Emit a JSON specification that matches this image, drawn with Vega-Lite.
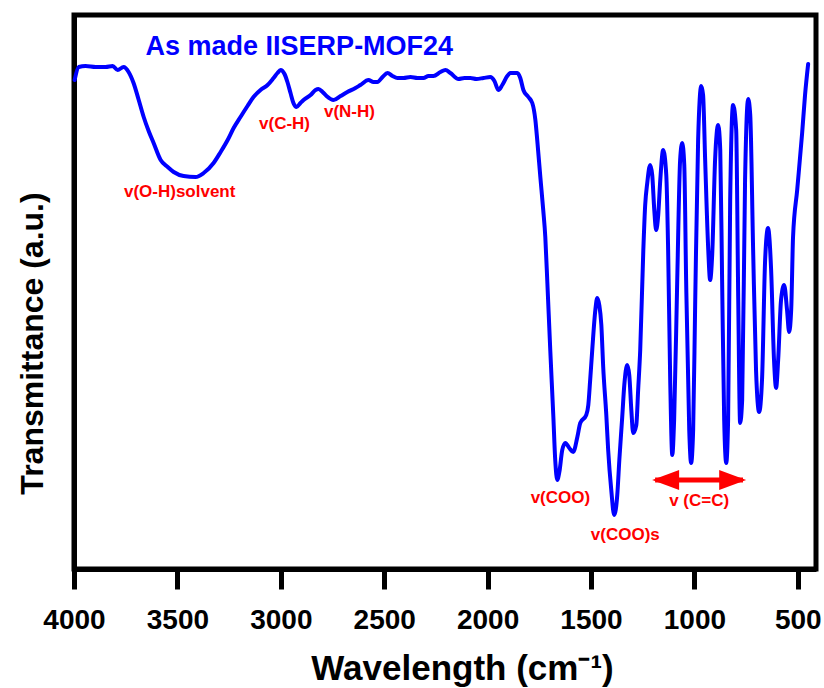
{
  "$schema": "https://vega.github.io/schema/vega-lite/v6.json",
  "width": 742,
  "height": 554,
  "autosize": {"type": "none"},
  "padding": {"left": 74, "top": 15, "right": 8, "bottom": 119},
  "background": "white",
  "config": {
    "view": {"stroke": "black", "strokeWidth": 5},
    "axis": {"grid": false, "domainColor": "black", "domainWidth": 5, "tickColor": "black", "tickWidth": 5,
      "labelFont": "Liberation Sans", "titleFont": "Liberation Sans", "labelColor": "black", "titleColor": "black",
      "labelFontWeight": "bold", "titleFontWeight": "bold"},
    "text": {"font": "Liberation Sans", "fontWeight": "bold"}
  },
  "datasets": {
    "spectrum": [
      {"wn": 3997, "t": 489}, {"wn": 3977, "t": 502}, {"wn": 3944, "t": 503}, {"wn": 3895, "t": 502},
      {"wn": 3847, "t": 502}, {"wn": 3813, "t": 503}, {"wn": 3789, "t": 499}, {"wn": 3760, "t": 502},
      {"wn": 3736, "t": 497}, {"wn": 3712, "t": 486}, {"wn": 3687, "t": 469}, {"wn": 3663, "t": 452},
      {"wn": 3639, "t": 438}, {"wn": 3615, "t": 426}, {"wn": 3581, "t": 409}, {"wn": 3547, "t": 402},
      {"wn": 3518, "t": 397}, {"wn": 3470, "t": 393}, {"wn": 3412, "t": 392}, {"wn": 3373, "t": 396},
      {"wn": 3325, "t": 406}, {"wn": 3291, "t": 417}, {"wn": 3257, "t": 429}, {"wn": 3228, "t": 441},
      {"wn": 3195, "t": 452}, {"wn": 3161, "t": 463}, {"wn": 3132, "t": 472}, {"wn": 3098, "t": 479},
      {"wn": 3064, "t": 484}, {"wn": 3035, "t": 491}, {"wn": 3016, "t": 496}, {"wn": 3001, "t": 499},
      {"wn": 2982, "t": 495}, {"wn": 2968, "t": 487}, {"wn": 2953, "t": 476}, {"wn": 2939, "t": 466},
      {"wn": 2924, "t": 462}, {"wn": 2905, "t": 466}, {"wn": 2890, "t": 469}, {"wn": 2856, "t": 474},
      {"wn": 2832, "t": 479}, {"wn": 2818, "t": 480}, {"wn": 2798, "t": 477}, {"wn": 2779, "t": 473},
      {"wn": 2745, "t": 469}, {"wn": 2711, "t": 473}, {"wn": 2678, "t": 477}, {"wn": 2639, "t": 481},
      {"wn": 2615, "t": 484}, {"wn": 2576, "t": 489}, {"wn": 2552, "t": 487}, {"wn": 2533, "t": 487},
      {"wn": 2508, "t": 492}, {"wn": 2484, "t": 496}, {"wn": 2460, "t": 493}, {"wn": 2436, "t": 491},
      {"wn": 2407, "t": 491}, {"wn": 2373, "t": 492}, {"wn": 2339, "t": 491}, {"wn": 2310, "t": 491},
      {"wn": 2286, "t": 493}, {"wn": 2262, "t": 493}, {"wn": 2228, "t": 497}, {"wn": 2204, "t": 499},
      {"wn": 2180, "t": 496}, {"wn": 2141, "t": 490}, {"wn": 2112, "t": 491}, {"wn": 2083, "t": 491},
      {"wn": 2054, "t": 490}, {"wn": 2020, "t": 491}, {"wn": 1987, "t": 492}, {"wn": 1967, "t": 488},
      {"wn": 1948, "t": 479}, {"wn": 1929, "t": 484}, {"wn": 1905, "t": 493}, {"wn": 1890, "t": 496},
      {"wn": 1856, "t": 496}, {"wn": 1842, "t": 491}, {"wn": 1827, "t": 479}, {"wn": 1803, "t": 472},
      {"wn": 1784, "t": 466}, {"wn": 1769, "t": 449}, {"wn": 1760, "t": 429}, {"wn": 1745, "t": 392},
      {"wn": 1731, "t": 359}, {"wn": 1721, "t": 332}, {"wn": 1711, "t": 286}, {"wn": 1697, "t": 219},
      {"wn": 1682, "t": 152}, {"wn": 1673, "t": 109}, {"wn": 1663, "t": 89}, {"wn": 1653, "t": 97},
      {"wn": 1639, "t": 119}, {"wn": 1624, "t": 126}, {"wn": 1605, "t": 121}, {"wn": 1586, "t": 117},
      {"wn": 1566, "t": 132}, {"wn": 1552, "t": 146}, {"wn": 1523, "t": 154}, {"wn": 1513, "t": 164},
      {"wn": 1504, "t": 189}, {"wn": 1494, "t": 219}, {"wn": 1479, "t": 259}, {"wn": 1470, "t": 271},
      {"wn": 1460, "t": 264}, {"wn": 1450, "t": 244}, {"wn": 1441, "t": 202}, {"wn": 1426, "t": 154},
      {"wn": 1417, "t": 119}, {"wn": 1402, "t": 79}, {"wn": 1388, "t": 54}, {"wn": 1373, "t": 74},
      {"wn": 1363, "t": 109}, {"wn": 1349, "t": 152}, {"wn": 1339, "t": 184}, {"wn": 1325, "t": 204},
      {"wn": 1315, "t": 194}, {"wn": 1305, "t": 159}, {"wn": 1296, "t": 136}, {"wn": 1281, "t": 144},
      {"wn": 1272, "t": 179}, {"wn": 1262, "t": 219}, {"wn": 1247, "t": 319}, {"wn": 1238, "t": 364},
      {"wn": 1228, "t": 386}, {"wn": 1214, "t": 404}, {"wn": 1204, "t": 394}, {"wn": 1194, "t": 359},
      {"wn": 1185, "t": 339}, {"wn": 1175, "t": 354}, {"wn": 1165, "t": 389}, {"wn": 1151, "t": 419},
      {"wn": 1136, "t": 394}, {"wn": 1127, "t": 319}, {"wn": 1117, "t": 189}, {"wn": 1107, "t": 114},
      {"wn": 1098, "t": 149}, {"wn": 1083, "t": 289}, {"wn": 1069, "t": 409}, {"wn": 1059, "t": 426},
      {"wn": 1049, "t": 404}, {"wn": 1040, "t": 289}, {"wn": 1025, "t": 139}, {"wn": 1016, "t": 106},
      {"wn": 1006, "t": 139}, {"wn": 996, "t": 269}, {"wn": 982, "t": 429}, {"wn": 967, "t": 483},
      {"wn": 958, "t": 474}, {"wn": 948, "t": 409}, {"wn": 933, "t": 319}, {"wn": 924, "t": 289},
      {"wn": 914, "t": 314}, {"wn": 900, "t": 409}, {"wn": 885, "t": 444}, {"wn": 875, "t": 419},
      {"wn": 866, "t": 289}, {"wn": 856, "t": 149}, {"wn": 846, "t": 106}, {"wn": 837, "t": 149},
      {"wn": 827, "t": 369}, {"wn": 813, "t": 464}, {"wn": 798, "t": 439}, {"wn": 788, "t": 269},
      {"wn": 779, "t": 146}, {"wn": 769, "t": 169}, {"wn": 755, "t": 389}, {"wn": 740, "t": 470},
      {"wn": 730, "t": 454}, {"wn": 716, "t": 319}, {"wn": 702, "t": 199}, {"wn": 687, "t": 157},
      {"wn": 673, "t": 189}, {"wn": 658, "t": 309}, {"wn": 644, "t": 341}, {"wn": 629, "t": 299},
      {"wn": 615, "t": 209}, {"wn": 605, "t": 181}, {"wn": 595, "t": 209}, {"wn": 581, "t": 269},
      {"wn": 566, "t": 284}, {"wn": 552, "t": 259}, {"wn": 542, "t": 237}, {"wn": 532, "t": 259},
      {"wn": 523, "t": 332}, {"wn": 503, "t": 379}, {"wn": 479, "t": 436}, {"wn": 465, "t": 474},
      {"wn": 450, "t": 505}
    ],
    "labels": [
      {"wn": 3489, "t": 377, "label": "v(O-H)solvent"},
      {"wn": 2982, "t": 445, "label": "v(C-H)"},
      {"wn": 2668, "t": 457, "label": "v(N-H)"},
      {"wn": 1648, "t": 71, "label": "v(COO)"},
      {"wn": 1334, "t": 34, "label": "v(COO)s"},
      {"wn": 977, "t": 68, "label": "v (C=C)"}
    ],
    "heading": [{"wn": 3654, "t": 514, "label": "As made IISERP-MOF24"}],
    "arrow": [{"wn": 1190, "wn2": 765, "t": 89}],
    "headL": [{"wn": 1139, "t": 89}],
    "headR": [{"wn": 815, "t": 89}]
  },
  "encoding": {
    "x": {"field": "wn", "type": "quantitative",
      "scale": {"domain": [4000, 412], "nice": false, "zero": false},
      "axis": {"values": [4000, 3500, 3000, 2500, 2000, 1500, 1000, 500], "format": "d", "tickSize": 20,
        "labelFontSize": 28, "labelPadding": 39, "labelBaseline": "alphabetic", "labelFlush": false, "labelOverlap": false,
        "title": "Wavelength (cm⁻¹)", "titleFontSize": 35, "titleX": 388, "titleY": 110, "titleAlign": "center", "titleBaseline": "alphabetic"}},
    "y": {"field": "t", "type": "quantitative",
      "scale": {"domain": [0, 554], "nice": false, "zero": false},
      "axis": {"ticks": false, "labels": false, "title": "Transmittance (a.u.)", "titleFontSize": 32,
        "titleX": -32, "titleY": 328, "titleAngle": -90, "titleAlign": "center", "titleBaseline": "alphabetic"}}
  },
  "layer": [
    {"data": {"name": "spectrum"}, "mark": {"type": "line", "color": "#0000FF", "strokeWidth": 4, "interpolate": "monotone", "strokeCap": "round", "strokeJoin": "round"}},
    {"data": {"name": "labels"}, "mark": {"type": "text", "color": "#FF0000", "fontSize": 17, "align": "center", "baseline": "middle"}, "encoding": {"text": {"field": "label"}}},
    {"data": {"name": "heading"}, "mark": {"type": "text", "color": "#0000FF", "fontSize": 27, "align": "left", "baseline": "alphabetic"}, "encoding": {"text": {"field": "label"}}},
    {"data": {"name": "arrow"}, "mark": {"type": "rule", "color": "#FF0000", "strokeWidth": 5}, "encoding": {"x2": {"field": "wn2"}}},
    {"data": {"name": "headL"}, "mark": {"type": "point", "filled": true, "color": "#FF0000", "opacity": 1, "size": 729, "shape": "M -1 0 L 1 -0.74 L 1 0.74 Z"}},
    {"data": {"name": "headR"}, "mark": {"type": "point", "filled": true, "color": "#FF0000", "opacity": 1, "size": 729, "shape": "M 1 0 L -1 -0.74 L -1 0.74 Z"}}
  ]
}
